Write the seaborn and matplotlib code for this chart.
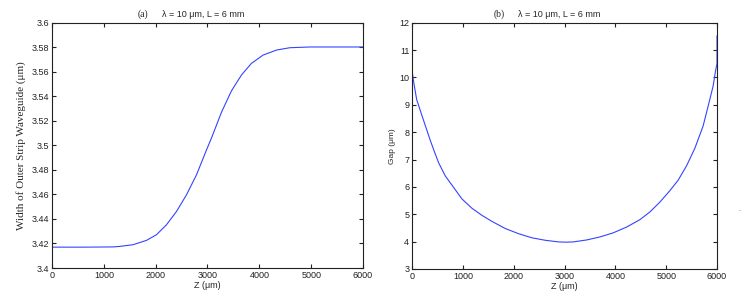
import numpy as np
import pandas as pd
import seaborn as sns
from matplotlib import pyplot as plt
from matplotlib.ticker import FormatStrFormatter

# panel (a): width of outer strip waveguide vs Z
z_a = [0, 600, 921, 1180, 1307, 1564, 1822, 2015, 2208, 2402, 2595, 2788,
       2981, 3077, 3270, 3463, 3656, 3849, 4073, 4332, 4589, 4975, 6000]
width_a = [3.417, 3.417, 3.4171, 3.4172, 3.4176, 3.419, 3.4225, 3.4271, 3.4352,
           3.4461, 3.4597, 3.476, 3.4963, 3.5060, 3.5270, 3.5445, 3.5574,
           3.5669, 3.5736, 3.5777, 3.5796, 3.5802, 3.5802]

# panel (b): gap vs Z
z_b = [0, 0, 26, 92, 222, 354, 426, 524, 655, 819, 983, 1179, 1376, 1572,
       1834, 2096, 2358, 2620, 2882, 3030, 3171, 3433, 3695, 3957, 4219,
       4481, 4678, 4874, 5071, 5234, 5398, 5562, 5726, 5824, 5922, 5975,
       6000, 6000]
gap_b = [11.52, 10.28, 9.91, 9.19, 8.46, 7.73, 7.36, 6.88, 6.40, 5.98, 5.56,
         5.22, 4.96, 4.74, 4.48, 4.29, 4.14, 4.05, 3.99, 3.98, 3.99, 4.06,
         4.17, 4.32, 4.53, 4.80, 5.08, 5.44, 5.86, 6.24, 6.76, 7.40, 8.22,
         8.94, 9.67, 10.28, 10.50, 11.52]

xticks = np.arange(0, 6001, 1000)
yticks_a = np.round(np.arange(3.40, 3.601, 0.02), 2)
yticks_b = np.arange(3, 13, 1)

sns.set_style('ticks')
plt.rcParams['font.family'] = ['Liberation Sans', 'DejaVu Sans']
plt.rcParams['font.size'] = 6.5
plt.rcParams['xtick.direction'] = 'in'
plt.rcParams['ytick.direction'] = 'in'
plt.rcParams['xtick.major.size'] = 3
plt.rcParams['ytick.major.size'] = 3
plt.rcParams['axes.linewidth'] = 0.8

W, H = 748, 300
fig = plt.figure(figsize=(7.48, 3.0), dpi=100)
ax1 = fig.add_axes([52 / W, 1 - 268 / H, 311 / W, 245.3 / H])
ax2 = fig.add_axes([412 / W, 1 - 269 / H, 305 / W, 246.3 / H])

df_a = pd.DataFrame({'z': z_a, 'w': width_a})
df_b = pd.DataFrame({'z': z_b, 'g': gap_b})
line_col = '#3344ff'
sns.lineplot(data=df_a, x='z', y='w', ax=ax1, color=line_col, lw=0.8,
             sort=False, estimator=None)
sns.lineplot(data=df_b, x='z', y='g', ax=ax2, color=line_col, lw=0.8,
             sort=False, estimator=None)

for ax in (ax1, ax2):
    ax.set_xlim(0, 6000)
    ax.set_xticks(xticks)
    ax.tick_params(top=True, right=True, labelsize=6.5, pad=2, colors='#222222')
    ax.set_xlabel('Z (\u03bcm)', fontsize=6.5, labelpad=1)
    for s in ax.spines.values():
        s.set_color('#222222')

ax1.set_ylim(3.4, 3.6)
ax1.set_yticks(yticks_a)
ax1.yaxis.set_major_formatter(FormatStrFormatter('%g'))
ax1.set_ylabel('Width of Outer Strip Waveguide (\u03bcm)', family='Liberation Serif',
               fontsize=8, labelpad=4)

ax2.set_ylim(3, 12)
ax2.set_yticks(yticks_b)
ax2.set_ylabel('Gap (\u03bcm)', fontsize=6, labelpad=2)

# panel titles
fig.text(138 / W, 1 - 17 / H, '(a)', family='Liberation Serif', fontsize=7)
fig.text(162 / W, 1 - 17 / H, '\u03bb = 10 \u03bcm, L = 6 mm', fontsize=6.5)
fig.text(494 / W, 1 - 17 / H, '(b)', family='Liberation Serif', fontsize=7)
fig.text(518 / W, 1 - 17 / H, '\u03bb = 10 \u03bcm, L = 6 mm', fontsize=6.5)
fig.text(739 / W, 1 - 212 / H, '-', fontsize=4, color='#555555')

fig.savefig('out.png', dpi=100)
